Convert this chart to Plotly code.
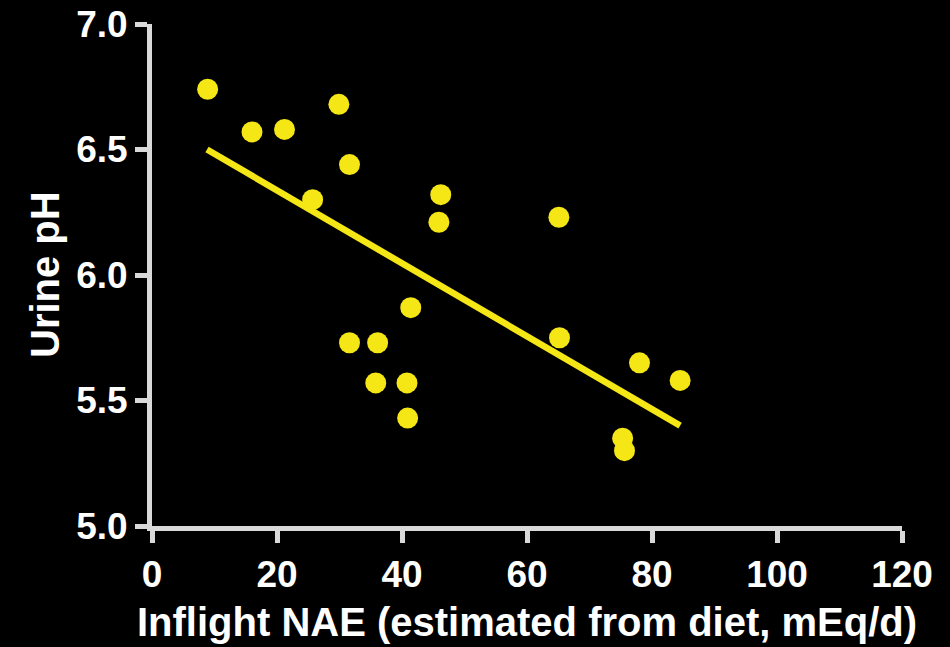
import plotly.graph_objects as go

# Data
nae = [8.9, 16.0, 21.2, 25.7, 29.9, 31.6, 31.6, 36.1, 35.8, 40.8, 40.9, 41.4,
       46.2, 45.9, 65.1, 65.2, 78.0, 84.5, 75.3, 75.6]
ph = [6.74, 6.57, 6.58, 6.30, 6.68, 6.44, 5.73, 5.73, 5.57, 5.57, 5.43, 5.87,
      6.32, 6.21, 6.23, 5.75, 5.65, 5.58, 5.35, 5.30]
fit_x = [8.8, 84.5]
fit_y = [6.50, 5.40]

x_ticks = [0, 20, 40, 60, 80, 100, 120]
y_ticks = [5.0, 5.5, 6.0, 6.5, 7.0]
y_tick_text = ["5.0", "5.5", "6.0", "6.5", "7.0"]

YELLOW = "#f5e616"
GRAY = "#d9d9d9"
FONT = "Arial, Liberation Sans, sans-serif"

fig = go.Figure()
fig.add_trace(go.Scatter(x=fit_x, y=fit_y, mode="lines",
                         line=dict(color=YELLOW, width=6.5), hoverinfo="skip"))
fig.add_trace(go.Scatter(x=nae, y=ph, mode="markers",
                         marker=dict(color=YELLOW, size=21, line=dict(width=0))))

tickfont = dict(size=37, family=FONT, color="white", weight="bold")

fig.update_layout(
    width=950, height=647,
    paper_bgcolor="black", plot_bgcolor="black",
    margin=dict(l=152, r=48, t=24, b=121),
    showlegend=False,
    font=dict(family=FONT, color="white"),
    xaxis=dict(range=[0, 120], tickvals=x_ticks, showgrid=False, zeroline=False,
               showline=True, linecolor=GRAY, linewidth=5, automargin=False,
               ticks="outside", ticklen=12, tickwidth=5, tickcolor=GRAY,
               tickfont=tickfont),
    yaxis=dict(range=[5.0, 7.0], tickvals=y_ticks, ticktext=y_tick_text,
               showgrid=False, zeroline=False, automargin=False,
               showline=True, linecolor=GRAY, linewidth=5,
               ticks="outside", ticklen=12, tickwidth=5, tickcolor=GRAY,
               tickfont=tickfont),
    annotations=[
        dict(text="<b>Inflight NAE (estimated from diet, mEq/d)</b>",
             xref="paper", yref="paper", x=0.5, y=0, yshift=-96,
             xanchor="center", yanchor="middle", showarrow=False,
             font=dict(size=40, family=FONT, color="white")),
        dict(text="<b>Urine pH</b>", textangle=-90,
             xref="paper", yref="paper", x=0, y=0.5, xshift=-107,
             xanchor="center", yanchor="middle", showarrow=False,
             font=dict(size=40, family=FONT, color="white")),
    ],
)

fig.write_html("out.html")
